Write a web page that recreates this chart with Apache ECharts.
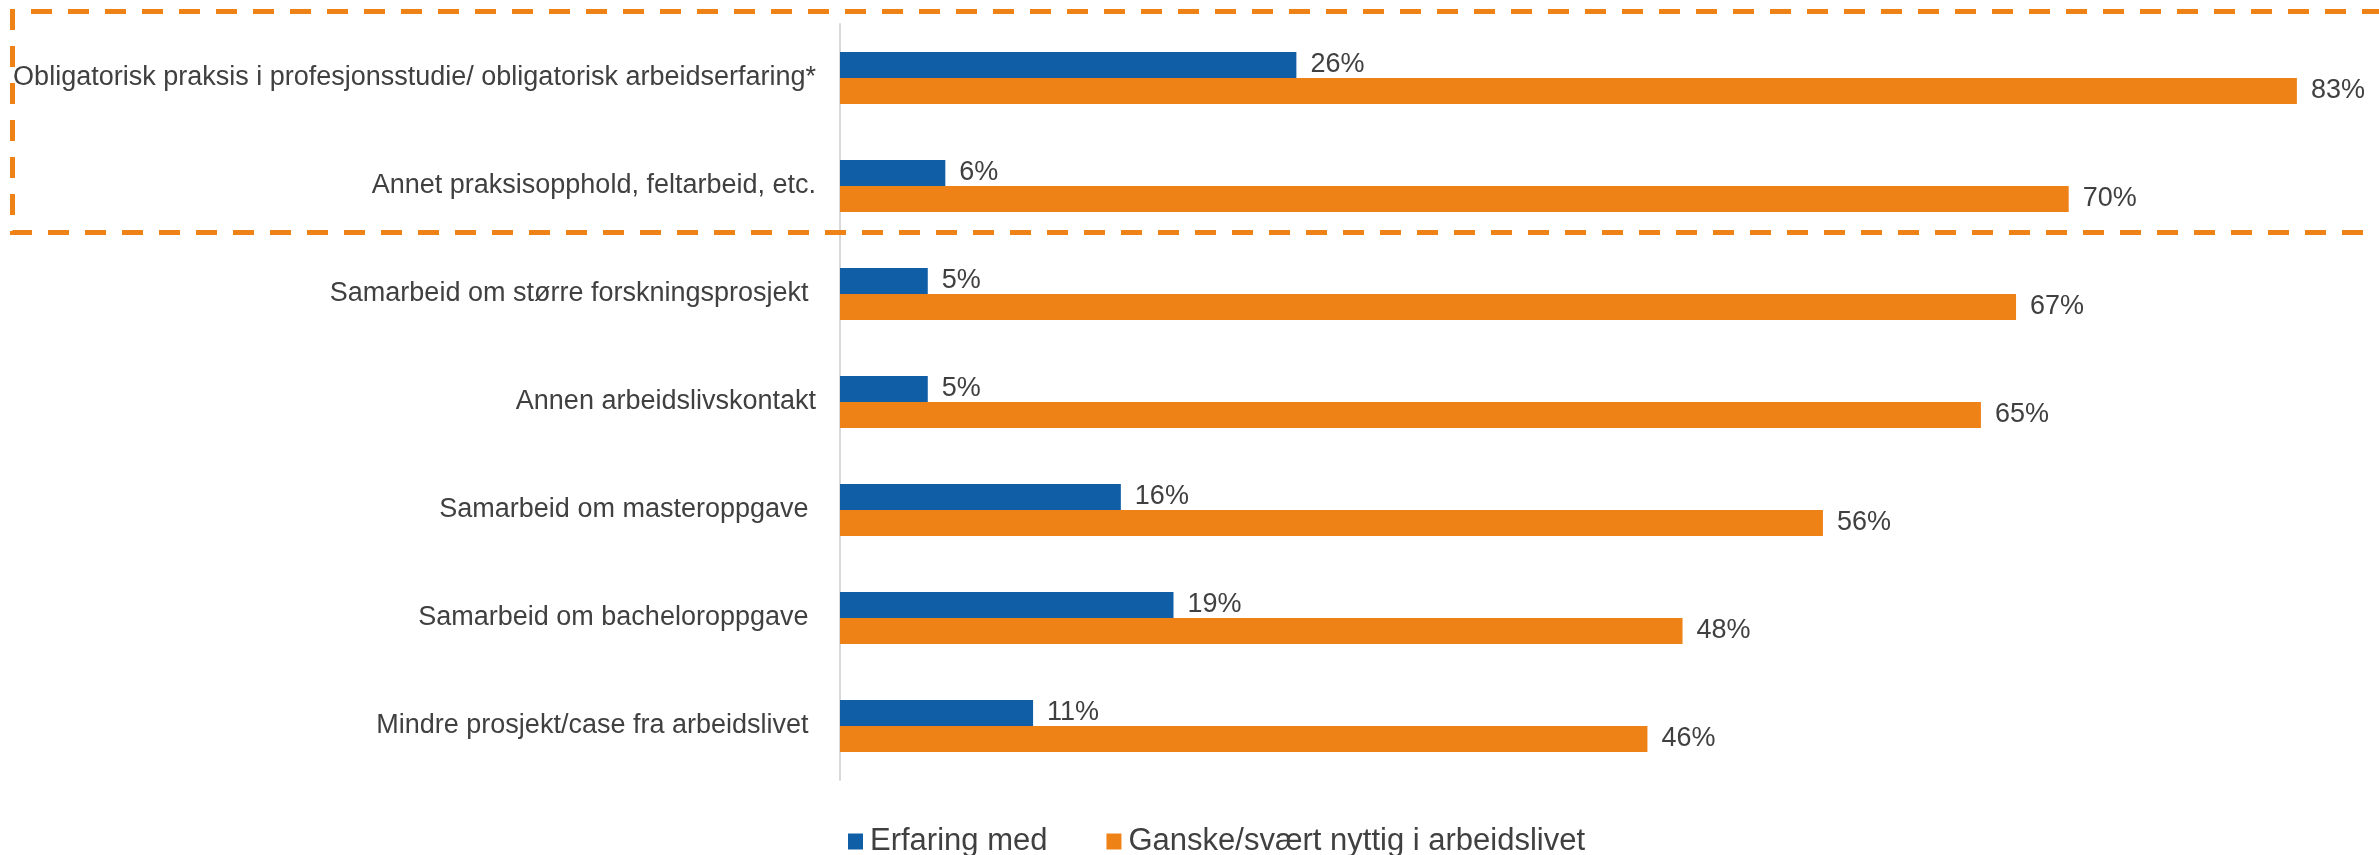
<!DOCTYPE html>
<html>
<head>
<meta charset="utf-8">
<script src="https://cdn.jsdelivr.net/npm/echarts@6/dist/echarts.min.js"></script>
<style>
  html, body { margin: 0; padding: 0; background: #fff; }
  #chart { width: 2379px; height: 855px; }
</style>
</head>
<body>
<div id="chart"></div>
<script>
// kategorier, ovenfra og ned
const categories = [
  'Obligatorisk praksis i profesjonsstudie/ obligatorisk arbeidserfaring*',
  'Annet praksisopphold, feltarbeid, etc.',
  'Samarbeid om større forskningsprosjekt ',
  'Annen arbeidslivskontakt',
  'Samarbeid om masteroppgave ',
  'Samarbeid om bacheloroppgave ',
  'Mindre prosjekt/case fra arbeidslivet '
]
const erfaringMed = [26, 6, 5, 5, 16, 19, 11]
const nyttig = [83, 70, 67, 65, 56, 48, 46]
const seriesNames = ['Erfaring med', 'Ganske/svært nyttig i arbeidslivet']

const BLUE = '#0f5ea6'
const ORANGE = '#ef8217'
const TEXT = '#404040'
const FONT = '"Liberation Sans", Arial, sans-serif'

let myChart = echarts.init(document.getElementById('chart'))

const valueLabel = {
  show: true,
  position: 'right',
  distance: 14,
  color: TEXT,
  fontFamily: FONT,
  fontSize: 27,
  formatter: '{c}%'
}

myChart.setOption({
  animation: false,
  grid: {
    left: 840,
    top: 24,
    height: 756,
    right: 47
  },
  xAxis: {
    type: 'value',
    min: 0,
    max: 85,
    show: false
  },
  yAxis: {
    type: 'category',
    inverse: true, // første kategori øverst
    data: categories,
    axisLine: { lineStyle: { color: '#d9d9d9', width: 2 } },
    axisTick: { show: false },
    axisLabel: {
      margin: 24,
      color: TEXT,
      fontFamily: FONT,
      fontSize: 27
    }
  },
  legend: {
    left: 843,
    top: 821,
    itemWidth: 15,
    itemHeight: 16,
    itemGap: 59,
    icon: 'rect',
    textStyle: { color: TEXT, fontFamily: FONT, fontSize: 31, padding: [0, 0, 0, 2] },
    data: seriesNames
  },
  // stiplet ramme rundt de to øverste kategoriene
  graphic: [
    {
      type: 'polyline',
      shape: { points: [[2420, 11.5], [12.5, 11.5], [12.5, 232.5], [2420, 232.5]] },
      style: { stroke: ORANGE, lineWidth: 5, fill: null, lineDash: [21, 16] },
      z: 10
    }
  ],
  series: [
    {
      name: seriesNames[0],
      type: 'bar',
      data: erfaringMed,
      itemStyle: { color: BLUE },
      barGap: 0,
      barCategoryGap: '52%',
      label: valueLabel
    },
    {
      name: seriesNames[1],
      type: 'bar',
      data: nyttig,
      itemStyle: { color: ORANGE },
      barGap: 0,
      barCategoryGap: '52%',
      label: valueLabel
    }
  ]
})
</script>
</body>
</html>
